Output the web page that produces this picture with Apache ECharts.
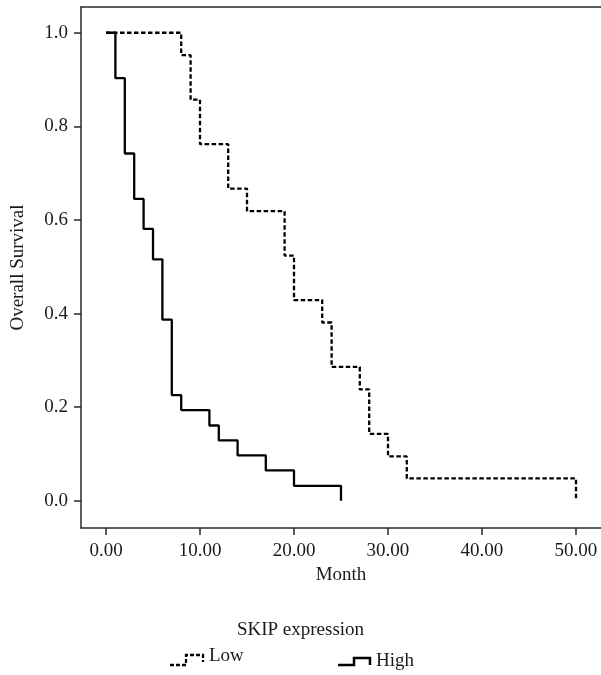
<!DOCTYPE html>
<html>
<head>
<meta charset="utf-8">
<style>
  html, body { margin: 0; padding: 0; background: #fff; }
  #chart { width: 601px; height: 675px; }
</style>
<script src="https://cdn.jsdelivr.net/npm/echarts@6/dist/echarts.min.js"></script>
</head>
<body>
<div id="chart"></div>
<script>
// Kaplan-Meier step data (month, survival proportion)
var lowMonths = [0, 8, 9, 10, 13, 15, 19, 20, 23, 24, 27, 28, 30, 32, 50];
var lowSurvival = [1.0, 0.952, 0.857, 0.762, 0.667, 0.619, 0.524, 0.429, 0.381, 0.286, 0.238, 0.143, 0.095, 0.048, 0.0];
var highMonths = [0, 1, 2, 3, 4, 5, 6, 7, 8, 11, 12, 14, 17, 20, 25];
var highSurvival = [1.0, 0.903, 0.742, 0.645, 0.581, 0.516, 0.387, 0.226, 0.194, 0.161, 0.129, 0.097, 0.065, 0.032, 0.0];
var xTicks = [0, 10, 20, 30, 40, 50];
var yTicks = [0, 0.2, 0.4, 0.6, 0.8, 1.0];
var seriesNames = ['Low', 'High'];
var legendTitle = 'SKIP expression';
var xName = 'Month';
var yName = 'Overall Survival';

function pairs(xs, ys) {
  return xs.map(function (x, i) { return [x, ys[i]]; });
}

var FONT = '"Liberation Serif", "DejaVu Serif", serif';
var TXT = '#1a1a1a';
var AX = '#2a2a2a';

var chart = echarts.init(document.getElementById('chart'), null, { renderer: 'canvas' });
chart.setOption({
  animation: false,
  backgroundColor: '#fff',
  textStyle: { fontFamily: FONT },
  grid: { left: 81, right: 0, top: 7, bottom: 147, containLabel: false },
  xAxis: [{
    type: 'value',
    min: -2.66,
    max: 52.66,
    name: xName,
    nameLocation: 'middle',
    nameGap: 37,
    nameTextStyle: { fontFamily: FONT, fontSize: 19, color: TXT },
    axisLine: { show: true, onZero: false, lineStyle: { color: AX, width: 1.5 } },
    axisTick: { show: true, inside: false, length: 7, customValues: xTicks, lineStyle: { color: AX, width: 1.5 } },
    axisLabel: {
      show: true, customValues: xTicks, margin: 14,
      fontFamily: FONT, fontSize: 19, color: TXT,
      formatter: function (v) { return v.toFixed(2); }
    },
    splitLine: { show: false }
  }, {
    type: 'value',
    position: 'top',
    min: -2.66,
    max: 52.66,
    axisLine: { show: true, onZero: false, lineStyle: { color: AX, width: 1.5 } },
    axisTick: { show: false },
    axisLabel: { show: false },
    splitLine: { show: false }
  }],
  yAxis: {
    type: 'value',
    min: -0.058,
    max: 1.055,
    name: yName,
    nameLocation: 'middle',
    nameGap: 53,
    nameRotate: 90,
    nameTextStyle: { fontFamily: FONT, fontSize: 19, color: TXT },
    axisLine: { show: true, onZero: false, lineStyle: { color: AX, width: 1.5 } },
    axisTick: { show: true, inside: false, length: 7, customValues: yTicks, lineStyle: { color: AX, width: 1.5 } },
    axisLabel: {
      show: true, customValues: yTicks, margin: 13,
      fontFamily: FONT, fontSize: 19, color: TXT,
      formatter: function (v) { return v.toFixed(1); }
    },
    splitLine: { show: false }
  },
  series: [{
    name: seriesNames[0],
    type: 'line',
    step: 'end',
    symbol: 'none',
    xAxisIndex: 0,
    data: pairs(lowMonths, lowSurvival),
    lineStyle: { color: '#000', width: 2.3, type: [4.5, 2.5] },
    z: 2
  }, {
    name: seriesNames[1],
    type: 'line',
    step: 'end',
    symbol: 'none',
    xAxisIndex: 0,
    data: pairs(highMonths, highSurvival),
    lineStyle: { color: '#000', width: 2.3, type: 'solid' },
    z: 3
  }],
  graphic: [
    {
      type: 'text', left: 'center', top: 621,
      style: { text: legendTitle, font: '19px ' + FONT, fill: TXT }
    },
    {
      type: 'polyline',
      shape: { points: [[170, 665], [186, 665], [186, 655], [203, 655], [203, 662]] },
      style: { stroke: '#000', lineWidth: 2.3, lineDash: [4, 2], fill: null }
    },
    {
      type: 'text', x: 209, y: 656,
      style: { text: seriesNames[0], font: '19px ' + FONT, fill: TXT, verticalAlign: 'middle' }
    },
    {
      type: 'polyline',
      shape: { points: [[338, 665], [354, 665], [354, 658], [370, 658], [370, 665]] },
      style: { stroke: '#000', lineWidth: 2.5, fill: null }
    },
    {
      type: 'text', x: 376, y: 661,
      style: { text: seriesNames[1], font: '19px ' + FONT, fill: TXT, verticalAlign: 'middle' }
    }
  ]
});
</script>
</body>
</html>
